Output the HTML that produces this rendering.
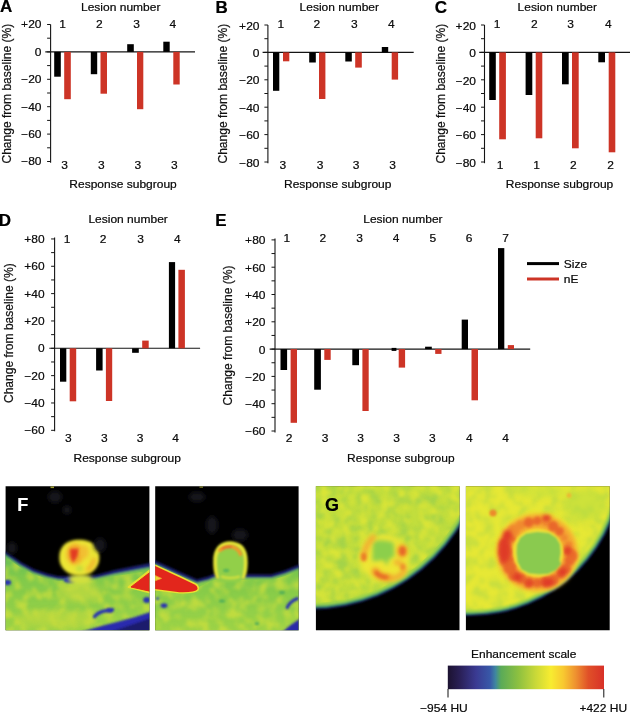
<!DOCTYPE html>
<html lang="en"><head><meta charset="utf-8"><title>Figure</title>
<style>
html,body{margin:0;padding:0;background:#fff;}
svg{display:block;font-family:"Liberation Sans",Arial,Helvetica,sans-serif;}
text{filter:url(#tb);}
text.r{filter:none;stroke:#111;stroke-width:0.22px;}
</style></head><body>
<svg width="630" height="715" viewBox="0 0 630 715">
<defs><filter id="tb" x="-5%" y="-25%" width="110%" height="150%"><feComponentTransfer><feFuncA type="gamma" exponent="0.62" amplitude="1" offset="0"/></feComponentTransfer></filter><filter id="tb2" x="-5%" y="-25%" width="110%" height="150%"><feComponentTransfer><feFuncA type="gamma" exponent="0.85" amplitude="1" offset="0"/></feComponentTransfer></filter></defs>
<rect width="630" height="715" fill="#fff"/>
<text transform="translate(0,12.3) scale(1,1)" text-anchor="start" font-size="17" font-weight="bold" fill="#000" >A</text>
<line x1="50.6" y1="24.50" x2="50.6" y2="162.70" stroke="#141414" stroke-width="1.1"/>
<line x1="47.1" y1="24.50" x2="50.6" y2="24.50" stroke="#141414" stroke-width="1"/>
<text transform="translate(41.5,28.40) scale(1.072,1)" text-anchor="end" font-size="11.2" font-weight="normal" fill="#111" >+20</text>
<line x1="47.1" y1="38.20" x2="50.6" y2="38.20" stroke="#141414" stroke-width="1"/>
<line x1="47.1" y1="51.90" x2="50.6" y2="51.90" stroke="#141414" stroke-width="1"/>
<text transform="translate(41.5,55.80) scale(1.072,1)" text-anchor="end" font-size="11.2" font-weight="normal" fill="#111" >0</text>
<line x1="47.1" y1="65.60" x2="50.6" y2="65.60" stroke="#141414" stroke-width="1"/>
<line x1="47.1" y1="79.30" x2="50.6" y2="79.30" stroke="#141414" stroke-width="1"/>
<text transform="translate(41.5,83.20) scale(1.072,1)" text-anchor="end" font-size="11.2" font-weight="normal" fill="#111" >−20</text>
<line x1="47.1" y1="93.00" x2="50.6" y2="93.00" stroke="#141414" stroke-width="1"/>
<line x1="47.1" y1="106.70" x2="50.6" y2="106.70" stroke="#141414" stroke-width="1"/>
<text transform="translate(41.5,110.60) scale(1.072,1)" text-anchor="end" font-size="11.2" font-weight="normal" fill="#111" >−40</text>
<line x1="47.1" y1="120.40" x2="50.6" y2="120.40" stroke="#141414" stroke-width="1"/>
<line x1="47.1" y1="134.10" x2="50.6" y2="134.10" stroke="#141414" stroke-width="1"/>
<text transform="translate(41.5,138.00) scale(1.072,1)" text-anchor="end" font-size="11.2" font-weight="normal" fill="#111" >−60</text>
<line x1="47.1" y1="147.80" x2="50.6" y2="147.80" stroke="#141414" stroke-width="1"/>
<line x1="47.1" y1="161.50" x2="50.6" y2="161.50" stroke="#141414" stroke-width="1"/>
<text transform="translate(41.5,165.40) scale(1.072,1)" text-anchor="end" font-size="11.2" font-weight="normal" fill="#111" >−80</text>
<line x1="45.300000000000004" y1="51.90" x2="195" y2="51.90" stroke="#141414" stroke-width="1.1"/>
<rect x="54.20" y="51.90" width="6.60" height="24.80" fill="#000"/>
<rect x="64.20" y="51.90" width="6.60" height="47.30" fill="#cd3426"/>
<rect x="90.80" y="51.90" width="6.40" height="22.30" fill="#000"/>
<rect x="100.50" y="51.90" width="6.50" height="41.80" fill="#cd3426"/>
<rect x="127.20" y="44.20" width="6.60" height="7.70" fill="#000"/>
<rect x="137.00" y="51.90" width="6.30" height="57.30" fill="#cd3426"/>
<rect x="163.30" y="41.70" width="6.40" height="10.20" fill="#000"/>
<rect x="173.30" y="51.90" width="6.40" height="32.60" fill="#cd3426"/>
<text transform="translate(62.5,28) scale(1.072,1)" text-anchor="middle" font-size="11.2" font-weight="normal" fill="#111" >1</text>
<text transform="translate(99.3,28) scale(1.072,1)" text-anchor="middle" font-size="11.2" font-weight="normal" fill="#111" >2</text>
<text transform="translate(136.5,28) scale(1.072,1)" text-anchor="middle" font-size="11.2" font-weight="normal" fill="#111" >3</text>
<text transform="translate(172.8,28) scale(1.072,1)" text-anchor="middle" font-size="11.2" font-weight="normal" fill="#111" >4</text>
<text transform="translate(64.5,169.3) scale(1.072,1)" text-anchor="middle" font-size="11.2" font-weight="normal" fill="#111" >3</text>
<text transform="translate(101.4,169.3) scale(1.072,1)" text-anchor="middle" font-size="11.2" font-weight="normal" fill="#111" >3</text>
<text transform="translate(137.8,169.3) scale(1.072,1)" text-anchor="middle" font-size="11.2" font-weight="normal" fill="#111" >3</text>
<text transform="translate(174.4,169.3) scale(1.072,1)" text-anchor="middle" font-size="11.2" font-weight="normal" fill="#111" >3</text>
<text transform="translate(81.0,10.9) scale(1.072,1)" text-anchor="start" font-size="11.2" font-weight="normal" fill="#111" >Lesion number</text>
<text transform="translate(69.3,188.0) scale(1.072,1)" text-anchor="start" font-size="11.2" font-weight="normal" fill="#111" >Response subgroup</text>
<text class="r" transform="translate(10.5,93.6) rotate(-90) scale(1,1.07)" text-anchor="middle" font-size="12.05" fill="#111">Change from baseline (%)</text>
<text transform="translate(215.6,13.1) scale(1,1)" text-anchor="start" font-size="17" font-weight="bold" fill="#000" >B</text>
<line x1="267.9" y1="25.00" x2="267.9" y2="163.20" stroke="#141414" stroke-width="1.1"/>
<line x1="264.4" y1="25.00" x2="267.9" y2="25.00" stroke="#141414" stroke-width="1"/>
<text transform="translate(259.5,29.50) scale(1.072,1)" text-anchor="end" font-size="11.2" font-weight="normal" fill="#111" >+20</text>
<line x1="264.4" y1="38.70" x2="267.9" y2="38.70" stroke="#141414" stroke-width="1"/>
<line x1="264.4" y1="52.40" x2="267.9" y2="52.40" stroke="#141414" stroke-width="1"/>
<text transform="translate(259.5,56.90) scale(1.072,1)" text-anchor="end" font-size="11.2" font-weight="normal" fill="#111" >0</text>
<line x1="264.4" y1="66.10" x2="267.9" y2="66.10" stroke="#141414" stroke-width="1"/>
<line x1="264.4" y1="79.80" x2="267.9" y2="79.80" stroke="#141414" stroke-width="1"/>
<text transform="translate(259.5,84.30) scale(1.072,1)" text-anchor="end" font-size="11.2" font-weight="normal" fill="#111" >−20</text>
<line x1="264.4" y1="93.50" x2="267.9" y2="93.50" stroke="#141414" stroke-width="1"/>
<line x1="264.4" y1="107.20" x2="267.9" y2="107.20" stroke="#141414" stroke-width="1"/>
<text transform="translate(259.5,111.70) scale(1.072,1)" text-anchor="end" font-size="11.2" font-weight="normal" fill="#111" >−40</text>
<line x1="264.4" y1="120.90" x2="267.9" y2="120.90" stroke="#141414" stroke-width="1"/>
<line x1="264.4" y1="134.60" x2="267.9" y2="134.60" stroke="#141414" stroke-width="1"/>
<text transform="translate(259.5,139.10) scale(1.072,1)" text-anchor="end" font-size="11.2" font-weight="normal" fill="#111" >−60</text>
<line x1="264.4" y1="148.30" x2="267.9" y2="148.30" stroke="#141414" stroke-width="1"/>
<line x1="264.4" y1="162.00" x2="267.9" y2="162.00" stroke="#141414" stroke-width="1"/>
<text transform="translate(259.5,166.50) scale(1.072,1)" text-anchor="end" font-size="11.2" font-weight="normal" fill="#111" >−80</text>
<line x1="262.59999999999997" y1="52.40" x2="413.7" y2="52.40" stroke="#141414" stroke-width="1.1"/>
<rect x="273.00" y="52.40" width="6.30" height="38.40" fill="#000"/>
<rect x="283.00" y="52.40" width="6.30" height="8.90" fill="#cd3426"/>
<rect x="309.20" y="52.40" width="6.60" height="10.10" fill="#000"/>
<rect x="319.00" y="52.40" width="6.40" height="46.60" fill="#cd3426"/>
<rect x="345.30" y="52.40" width="6.50" height="9.10" fill="#000"/>
<rect x="355.20" y="52.40" width="6.60" height="15.20" fill="#cd3426"/>
<rect x="381.80" y="47.00" width="6.40" height="5.40" fill="#000"/>
<rect x="391.70" y="52.40" width="6.40" height="27.20" fill="#cd3426"/>
<text transform="translate(280.8,28) scale(1.072,1)" text-anchor="middle" font-size="11.2" font-weight="normal" fill="#111" >1</text>
<text transform="translate(316.8,28) scale(1.072,1)" text-anchor="middle" font-size="11.2" font-weight="normal" fill="#111" >2</text>
<text transform="translate(354.3,28) scale(1.072,1)" text-anchor="middle" font-size="11.2" font-weight="normal" fill="#111" >3</text>
<text transform="translate(391.4,28) scale(1.072,1)" text-anchor="middle" font-size="11.2" font-weight="normal" fill="#111" >4</text>
<text transform="translate(282.8,169.3) scale(1.072,1)" text-anchor="middle" font-size="11.2" font-weight="normal" fill="#111" >3</text>
<text transform="translate(320,169.3) scale(1.072,1)" text-anchor="middle" font-size="11.2" font-weight="normal" fill="#111" >3</text>
<text transform="translate(356.2,169.3) scale(1.072,1)" text-anchor="middle" font-size="11.2" font-weight="normal" fill="#111" >3</text>
<text transform="translate(392.7,169.3) scale(1.072,1)" text-anchor="middle" font-size="11.2" font-weight="normal" fill="#111" >3</text>
<text transform="translate(299.6,10.9) scale(1.072,1)" text-anchor="start" font-size="11.2" font-weight="normal" fill="#111" >Lesion number</text>
<text transform="translate(284.0,188.0) scale(1.072,1)" text-anchor="start" font-size="11.2" font-weight="normal" fill="#111" >Response subgroup</text>
<text class="r" transform="translate(227.2,93.6) rotate(-90) scale(1,1.07)" text-anchor="middle" font-size="12.05" fill="#111">Change from baseline (%)</text>
<text transform="translate(434.8,12.9) scale(1,1)" text-anchor="start" font-size="17" font-weight="bold" fill="#000" >C</text>
<line x1="484.5" y1="25.00" x2="484.5" y2="163.20" stroke="#141414" stroke-width="1.1"/>
<line x1="481.0" y1="25.00" x2="484.5" y2="25.00" stroke="#141414" stroke-width="1"/>
<text transform="translate(476.0,29.70) scale(1.072,1)" text-anchor="end" font-size="11.2" font-weight="normal" fill="#111" >+20</text>
<line x1="481.0" y1="38.70" x2="484.5" y2="38.70" stroke="#141414" stroke-width="1"/>
<line x1="481.0" y1="52.40" x2="484.5" y2="52.40" stroke="#141414" stroke-width="1"/>
<text transform="translate(476.0,57.10) scale(1.072,1)" text-anchor="end" font-size="11.2" font-weight="normal" fill="#111" >0</text>
<line x1="481.0" y1="66.10" x2="484.5" y2="66.10" stroke="#141414" stroke-width="1"/>
<line x1="481.0" y1="79.80" x2="484.5" y2="79.80" stroke="#141414" stroke-width="1"/>
<text transform="translate(476.0,84.50) scale(1.072,1)" text-anchor="end" font-size="11.2" font-weight="normal" fill="#111" >−20</text>
<line x1="481.0" y1="93.50" x2="484.5" y2="93.50" stroke="#141414" stroke-width="1"/>
<line x1="481.0" y1="107.20" x2="484.5" y2="107.20" stroke="#141414" stroke-width="1"/>
<text transform="translate(476.0,111.90) scale(1.072,1)" text-anchor="end" font-size="11.2" font-weight="normal" fill="#111" >−40</text>
<line x1="481.0" y1="120.90" x2="484.5" y2="120.90" stroke="#141414" stroke-width="1"/>
<line x1="481.0" y1="134.60" x2="484.5" y2="134.60" stroke="#141414" stroke-width="1"/>
<text transform="translate(476.0,139.30) scale(1.072,1)" text-anchor="end" font-size="11.2" font-weight="normal" fill="#111" >−60</text>
<line x1="481.0" y1="148.30" x2="484.5" y2="148.30" stroke="#141414" stroke-width="1"/>
<line x1="481.0" y1="162.00" x2="484.5" y2="162.00" stroke="#141414" stroke-width="1"/>
<text transform="translate(476.0,166.70) scale(1.072,1)" text-anchor="end" font-size="11.2" font-weight="normal" fill="#111" >−80</text>
<line x1="479.2" y1="52.40" x2="630" y2="52.40" stroke="#141414" stroke-width="1.1"/>
<rect x="489.20" y="52.40" width="6.60" height="47.60" fill="#000"/>
<rect x="499.20" y="52.40" width="6.70" height="86.90" fill="#cd3426"/>
<rect x="525.60" y="52.40" width="6.70" height="42.60" fill="#000"/>
<rect x="535.70" y="52.40" width="6.60" height="85.90" fill="#cd3426"/>
<rect x="562.00" y="52.40" width="6.70" height="31.90" fill="#000"/>
<rect x="572.00" y="52.40" width="6.70" height="95.90" fill="#cd3426"/>
<rect x="598.30" y="52.40" width="6.70" height="9.90" fill="#000"/>
<rect x="608.70" y="52.40" width="6.60" height="99.90" fill="#cd3426"/>
<text transform="translate(497,28) scale(1.072,1)" text-anchor="middle" font-size="11.2" font-weight="normal" fill="#111" >1</text>
<text transform="translate(534.3,28) scale(1.072,1)" text-anchor="middle" font-size="11.2" font-weight="normal" fill="#111" >2</text>
<text transform="translate(570.7,28) scale(1.072,1)" text-anchor="middle" font-size="11.2" font-weight="normal" fill="#111" >3</text>
<text transform="translate(608.3,28) scale(1.072,1)" text-anchor="middle" font-size="11.2" font-weight="normal" fill="#111" >4</text>
<text transform="translate(500,169.3) scale(1.072,1)" text-anchor="middle" font-size="11.2" font-weight="normal" fill="#111" >1</text>
<text transform="translate(536.7,169.3) scale(1.072,1)" text-anchor="middle" font-size="11.2" font-weight="normal" fill="#111" >1</text>
<text transform="translate(573.3,169.3) scale(1.072,1)" text-anchor="middle" font-size="11.2" font-weight="normal" fill="#111" >2</text>
<text transform="translate(610.5,169.3) scale(1.072,1)" text-anchor="middle" font-size="11.2" font-weight="normal" fill="#111" >2</text>
<text transform="translate(517.6,10.9) scale(1.072,1)" text-anchor="start" font-size="11.2" font-weight="normal" fill="#111" >Lesion number</text>
<text transform="translate(505.8,188.3) scale(1.072,1)" text-anchor="start" font-size="11.2" font-weight="normal" fill="#111" >Response subgroup</text>
<text class="r" transform="translate(445.2,93.6) rotate(-90) scale(1,1.07)" text-anchor="middle" font-size="12.05" fill="#111">Change from baseline (%)</text>
<text transform="translate(-1.2,226.0) scale(1,1)" text-anchor="start" font-size="17" font-weight="bold" fill="#000" >D</text>
<line x1="54.6" y1="237.44" x2="54.6" y2="431.32" stroke="#141414" stroke-width="1.1"/>
<line x1="51.1" y1="238.94" x2="54.6" y2="238.94" stroke="#141414" stroke-width="1"/>
<text transform="translate(44.6,242.84) scale(1.072,1)" text-anchor="end" font-size="11.2" font-weight="normal" fill="#111" >+80</text>
<line x1="51.1" y1="252.61" x2="54.6" y2="252.61" stroke="#141414" stroke-width="1"/>
<line x1="51.1" y1="266.28" x2="54.6" y2="266.28" stroke="#141414" stroke-width="1"/>
<text transform="translate(44.6,270.18) scale(1.072,1)" text-anchor="end" font-size="11.2" font-weight="normal" fill="#111" >+60</text>
<line x1="51.1" y1="279.95" x2="54.6" y2="279.95" stroke="#141414" stroke-width="1"/>
<line x1="51.1" y1="293.62" x2="54.6" y2="293.62" stroke="#141414" stroke-width="1"/>
<text transform="translate(44.6,297.52) scale(1.072,1)" text-anchor="end" font-size="11.2" font-weight="normal" fill="#111" >+40</text>
<line x1="51.1" y1="307.29" x2="54.6" y2="307.29" stroke="#141414" stroke-width="1"/>
<line x1="51.1" y1="320.96" x2="54.6" y2="320.96" stroke="#141414" stroke-width="1"/>
<text transform="translate(44.6,324.86) scale(1.072,1)" text-anchor="end" font-size="11.2" font-weight="normal" fill="#111" >+20</text>
<line x1="51.1" y1="334.63" x2="54.6" y2="334.63" stroke="#141414" stroke-width="1"/>
<line x1="51.1" y1="348.30" x2="54.6" y2="348.30" stroke="#141414" stroke-width="1"/>
<text transform="translate(44.6,352.20) scale(1.072,1)" text-anchor="end" font-size="11.2" font-weight="normal" fill="#111" >0</text>
<line x1="51.1" y1="361.97" x2="54.6" y2="361.97" stroke="#141414" stroke-width="1"/>
<line x1="51.1" y1="375.64" x2="54.6" y2="375.64" stroke="#141414" stroke-width="1"/>
<text transform="translate(44.6,379.54) scale(1.072,1)" text-anchor="end" font-size="11.2" font-weight="normal" fill="#111" >−20</text>
<line x1="51.1" y1="389.31" x2="54.6" y2="389.31" stroke="#141414" stroke-width="1"/>
<line x1="51.1" y1="402.98" x2="54.6" y2="402.98" stroke="#141414" stroke-width="1"/>
<text transform="translate(44.6,406.88) scale(1.072,1)" text-anchor="end" font-size="11.2" font-weight="normal" fill="#111" >−40</text>
<line x1="51.1" y1="416.65" x2="54.6" y2="416.65" stroke="#141414" stroke-width="1"/>
<line x1="51.1" y1="430.32" x2="54.6" y2="430.32" stroke="#141414" stroke-width="1"/>
<text transform="translate(44.6,434.22) scale(1.072,1)" text-anchor="end" font-size="11.2" font-weight="normal" fill="#111" >−60</text>
<line x1="49.300000000000004" y1="348.30" x2="200.1" y2="348.30" stroke="#141414" stroke-width="1.1"/>
<rect x="60.00" y="348.30" width="6.30" height="33.40" fill="#000"/>
<rect x="69.70" y="348.30" width="6.50" height="53.00" fill="#cd3426"/>
<rect x="96.10" y="348.30" width="6.50" height="22.20" fill="#000"/>
<rect x="105.90" y="348.30" width="6.30" height="52.70" fill="#cd3426"/>
<rect x="132.10" y="348.30" width="6.70" height="4.50" fill="#000"/>
<rect x="142.20" y="340.60" width="6.50" height="7.70" fill="#cd3426"/>
<rect x="168.90" y="262.10" width="6.20" height="86.20" fill="#000"/>
<rect x="178.40" y="269.80" width="6.50" height="78.50" fill="#cd3426"/>
<text transform="translate(67,242.6) scale(1.072,1)" text-anchor="middle" font-size="11.2" font-weight="normal" fill="#111" >1</text>
<text transform="translate(103,242.6) scale(1.072,1)" text-anchor="middle" font-size="11.2" font-weight="normal" fill="#111" >2</text>
<text transform="translate(140.7,242.6) scale(1.072,1)" text-anchor="middle" font-size="11.2" font-weight="normal" fill="#111" >3</text>
<text transform="translate(177.3,242.6) scale(1.072,1)" text-anchor="middle" font-size="11.2" font-weight="normal" fill="#111" >4</text>
<text transform="translate(68.3,442.3) scale(1.072,1)" text-anchor="middle" font-size="11.2" font-weight="normal" fill="#111" >3</text>
<text transform="translate(104.3,442.3) scale(1.072,1)" text-anchor="middle" font-size="11.2" font-weight="normal" fill="#111" >3</text>
<text transform="translate(140,442.3) scale(1.072,1)" text-anchor="middle" font-size="11.2" font-weight="normal" fill="#111" >3</text>
<text transform="translate(175.7,442.3) scale(1.072,1)" text-anchor="middle" font-size="11.2" font-weight="normal" fill="#111" >4</text>
<text transform="translate(88.4,222.8) scale(1.072,1)" text-anchor="start" font-size="11.2" font-weight="normal" fill="#111" >Lesion number</text>
<text transform="translate(73.5,461.6) scale(1.072,1)" text-anchor="start" font-size="11.2" font-weight="normal" fill="#111" >Response subgroup</text>
<text class="r" transform="translate(12.7,333.1) rotate(-90) scale(1,1.07)" text-anchor="middle" font-size="12.05" fill="#111">Change from baseline (%)</text>
<text transform="translate(215.3,225.6) scale(1,1)" text-anchor="start" font-size="17" font-weight="bold" fill="#000" >E</text>
<line x1="275.0" y1="238.40" x2="275.0" y2="432.50" stroke="#141414" stroke-width="1.1"/>
<line x1="271.5" y1="239.90" x2="275.0" y2="239.90" stroke="#141414" stroke-width="1"/>
<text transform="translate(265.5,244.30) scale(1.072,1)" text-anchor="end" font-size="11.2" font-weight="normal" fill="#111" >+80</text>
<line x1="271.5" y1="253.55" x2="275.0" y2="253.55" stroke="#141414" stroke-width="1"/>
<line x1="271.5" y1="267.20" x2="275.0" y2="267.20" stroke="#141414" stroke-width="1"/>
<text transform="translate(265.5,271.60) scale(1.072,1)" text-anchor="end" font-size="11.2" font-weight="normal" fill="#111" >+60</text>
<line x1="271.5" y1="280.85" x2="275.0" y2="280.85" stroke="#141414" stroke-width="1"/>
<line x1="271.5" y1="294.50" x2="275.0" y2="294.50" stroke="#141414" stroke-width="1"/>
<text transform="translate(265.5,298.90) scale(1.072,1)" text-anchor="end" font-size="11.2" font-weight="normal" fill="#111" >+40</text>
<line x1="271.5" y1="308.15" x2="275.0" y2="308.15" stroke="#141414" stroke-width="1"/>
<line x1="271.5" y1="321.80" x2="275.0" y2="321.80" stroke="#141414" stroke-width="1"/>
<text transform="translate(265.5,326.20) scale(1.072,1)" text-anchor="end" font-size="11.2" font-weight="normal" fill="#111" >+20</text>
<line x1="271.5" y1="335.45" x2="275.0" y2="335.45" stroke="#141414" stroke-width="1"/>
<line x1="271.5" y1="349.10" x2="275.0" y2="349.10" stroke="#141414" stroke-width="1"/>
<text transform="translate(265.5,353.50) scale(1.072,1)" text-anchor="end" font-size="11.2" font-weight="normal" fill="#111" >0</text>
<line x1="271.5" y1="362.75" x2="275.0" y2="362.75" stroke="#141414" stroke-width="1"/>
<line x1="271.5" y1="376.40" x2="275.0" y2="376.40" stroke="#141414" stroke-width="1"/>
<text transform="translate(265.5,380.80) scale(1.072,1)" text-anchor="end" font-size="11.2" font-weight="normal" fill="#111" >−20</text>
<line x1="271.5" y1="390.05" x2="275.0" y2="390.05" stroke="#141414" stroke-width="1"/>
<line x1="271.5" y1="403.70" x2="275.0" y2="403.70" stroke="#141414" stroke-width="1"/>
<text transform="translate(265.5,408.10) scale(1.072,1)" text-anchor="end" font-size="11.2" font-weight="normal" fill="#111" >−40</text>
<line x1="271.5" y1="417.35" x2="275.0" y2="417.35" stroke="#141414" stroke-width="1"/>
<line x1="271.5" y1="431.00" x2="275.0" y2="431.00" stroke="#141414" stroke-width="1"/>
<text transform="translate(265.5,435.40) scale(1.072,1)" text-anchor="end" font-size="11.2" font-weight="normal" fill="#111" >−60</text>
<line x1="269.7" y1="349.10" x2="530.2" y2="349.10" stroke="#141414" stroke-width="1.1"/>
<rect x="280.50" y="349.10" width="6.60" height="20.90" fill="#000"/>
<rect x="290.60" y="349.10" width="6.40" height="73.70" fill="#cd3426"/>
<rect x="314.20" y="349.10" width="6.70" height="40.60" fill="#000"/>
<rect x="324.30" y="349.10" width="6.40" height="10.80" fill="#cd3426"/>
<rect x="352.30" y="349.10" width="6.70" height="16.10" fill="#000"/>
<rect x="362.40" y="349.10" width="6.30" height="61.90" fill="#cd3426"/>
<rect x="398.70" y="349.10" width="6.40" height="18.50" fill="#cd3426"/>
<rect x="425.10" y="346.70" width="6.70" height="2.40" fill="#000"/>
<rect x="435.20" y="349.10" width="6.30" height="4.80" fill="#cd3426"/>
<rect x="461.70" y="319.60" width="6.30" height="29.50" fill="#000"/>
<rect x="471.50" y="349.10" width="6.50" height="51.20" fill="#cd3426"/>
<rect x="498.00" y="248.10" width="6.30" height="101.00" fill="#000"/>
<rect x="507.80" y="345.10" width="6.20" height="4.00" fill="#cd3426"/>
<text transform="translate(286.8,242.4) scale(1.072,1)" text-anchor="middle" font-size="11.2" font-weight="normal" fill="#111" >1</text>
<text transform="translate(322.8,242.4) scale(1.072,1)" text-anchor="middle" font-size="11.2" font-weight="normal" fill="#111" >2</text>
<text transform="translate(359.6,242.4) scale(1.072,1)" text-anchor="middle" font-size="11.2" font-weight="normal" fill="#111" >3</text>
<text transform="translate(396.2,242.4) scale(1.072,1)" text-anchor="middle" font-size="11.2" font-weight="normal" fill="#111" >4</text>
<text transform="translate(432.8,242.4) scale(1.072,1)" text-anchor="middle" font-size="11.2" font-weight="normal" fill="#111" >5</text>
<text transform="translate(469.2,242.4) scale(1.072,1)" text-anchor="middle" font-size="11.2" font-weight="normal" fill="#111" >6</text>
<text transform="translate(505.6,242.4) scale(1.072,1)" text-anchor="middle" font-size="11.2" font-weight="normal" fill="#111" >7</text>
<text transform="translate(289,442.4) scale(1.072,1)" text-anchor="middle" font-size="11.2" font-weight="normal" fill="#111" >2</text>
<text transform="translate(325,442.4) scale(1.072,1)" text-anchor="middle" font-size="11.2" font-weight="normal" fill="#111" >3</text>
<text transform="translate(360.7,442.4) scale(1.072,1)" text-anchor="middle" font-size="11.2" font-weight="normal" fill="#111" >3</text>
<text transform="translate(396.7,442.4) scale(1.072,1)" text-anchor="middle" font-size="11.2" font-weight="normal" fill="#111" >3</text>
<text transform="translate(432.3,442.4) scale(1.072,1)" text-anchor="middle" font-size="11.2" font-weight="normal" fill="#111" >3</text>
<text transform="translate(469.4,442.4) scale(1.072,1)" text-anchor="middle" font-size="11.2" font-weight="normal" fill="#111" >4</text>
<text transform="translate(505.7,442.4) scale(1.072,1)" text-anchor="middle" font-size="11.2" font-weight="normal" fill="#111" >4</text>
<text transform="translate(363.2,223.0) scale(1.072,1)" text-anchor="start" font-size="11.2" font-weight="normal" fill="#111" >Lesion number</text>
<text transform="translate(347.1,461.8) scale(1.072,1)" text-anchor="start" font-size="11.2" font-weight="normal" fill="#111" >Response subgroup</text>
<text class="r" transform="translate(231.9,335.5) rotate(-90) scale(1,1.07)" text-anchor="middle" font-size="12.05" fill="#111">Change from baseline (%)</text>
<rect x="391.6" y="347.9" width="4.8" height="3" fill="#000"/>
<line x1="527" y1="263.6" x2="559" y2="263.6" stroke="#000" stroke-width="3"/>
<line x1="527" y1="279.0" x2="559" y2="279.0" stroke="#cd3426" stroke-width="3"/>
<text transform="translate(563.8,267.8) scale(1.072,1)" text-anchor="start" font-size="11.2" font-weight="normal" fill="#111" >Size</text>
<text transform="translate(563.8,283.4) scale(1.072,1)" text-anchor="start" font-size="11.2" font-weight="normal" fill="#111" >nE</text>

<defs>
<linearGradient id="cb" x1="0" x2="1" y1="0" y2="0">
<stop offset="0" stop-color="#1c1230"/>
<stop offset="0.08" stop-color="#2a2058"/>
<stop offset="0.18" stop-color="#3a3a92"/>
<stop offset="0.27" stop-color="#3858a8"/>
<stop offset="0.305" stop-color="#3f86a0"/>
<stop offset="0.34" stop-color="#5aaa58"/>
<stop offset="0.45" stop-color="#8cc040"/>
<stop offset="0.56" stop-color="#c8d838"/>
<stop offset="0.66" stop-color="#f8ec30"/>
<stop offset="0.74" stop-color="#f8c830"/>
<stop offset="0.82" stop-color="#ee9030"/>
<stop offset="0.90" stop-color="#e05028"/>
<stop offset="1" stop-color="#d83028"/>
</linearGradient>
</defs>
<rect x="447.8" y="665.6" width="156.2" height="23.6" fill="url(#cb)"/>
<line x1="448" y1="689" x2="448" y2="697.5" stroke="#111" stroke-width="1"/>
<line x1="603.8" y1="689" x2="603.8" y2="697.5" stroke="#111" stroke-width="1"/>
<text transform="translate(471,658.0) scale(1.072,1)" font-size="11.2" fill="#111">Enhancement scale</text>
<text transform="translate(420,712.2) scale(1.072,1)" font-size="11.2" fill="#111">−954 HU</text>
<text transform="translate(579.4,712.3) scale(1.072,1)" font-size="11.2" fill="#111">+422 HU</text>

<defs>
<filter id="b06" x="-20%" y="-20%" width="140%" height="140%"><feGaussianBlur stdDeviation="0.6"/></filter>
<filter id="b1" x="-20%" y="-20%" width="140%" height="140%"><feGaussianBlur stdDeviation="1"/></filter>
<filter id="b15" x="-30%" y="-30%" width="160%" height="160%"><feGaussianBlur stdDeviation="1.5"/></filter>
<filter id="b2" x="-40%" y="-40%" width="180%" height="180%"><feGaussianBlur stdDeviation="2"/></filter>
<filter id="b25" x="-40%" y="-40%" width="180%" height="180%"><feGaussianBlur stdDeviation="2.5"/></filter>
<filter id="b3" x="-50%" y="-50%" width="200%" height="200%"><feGaussianBlur stdDeviation="3"/></filter>
<filter id="txY" x="0" y="0" width="1" height="1" color-interpolation-filters="sRGB">
 <feTurbulence type="fractalNoise" baseFrequency="0.105" numOctaves="2" seed="7"/>
 <feColorMatrix type="matrix" values="0 0 0 0 0.90  0 0 0 0 0.90  0 0 0 0 0.22  3.2 0 0 0 -1.35"/>
 <feGaussianBlur stdDeviation="1.4"/>
 <feComposite in2="SourceGraphic" operator="in"/>
</filter>
<filter id="txG" x="0" y="0" width="1" height="1" color-interpolation-filters="sRGB">
 <feTurbulence type="fractalNoise" baseFrequency="0.095" numOctaves="2" seed="11"/>
 <feColorMatrix type="matrix" values="0 0 0 0 0.56  0 0 0 0 0.80  0 0 0 0 0.32  0 3.4 0 0 -1.45"/>
 <feGaussianBlur stdDeviation="1.5"/>
 <feComposite in2="SourceGraphic" operator="in"/>
</filter>
<filter id="txY2" x="0" y="0" width="1" height="1" color-interpolation-filters="sRGB">
 <feTurbulence type="fractalNoise" baseFrequency="0.10" numOctaves="2" seed="23"/>
 <feColorMatrix type="matrix" values="0 0 0 0 0.93  0 0 0 0 0.92  0 0 0 0 0.20  0 0 3.4 0 -1.45"/>
 <feGaussianBlur stdDeviation="1.5"/>
 <feComposite in2="SourceGraphic" operator="in"/>
</filter>
<linearGradient id="gF" x1="0" y1="555" x2="0" y2="630" gradientUnits="userSpaceOnUse">
 <stop offset="0" stop-color="#60bc5a"/><stop offset="0.3" stop-color="#80c94c"/><stop offset="1" stop-color="#9cd346"/>
</linearGradient>
<clipPath id="cF1"><rect x="5.6" y="486.3" width="143.8" height="143.9"/></clipPath>
<clipPath id="cF2"><rect x="155.2" y="486.3" width="143.4" height="143.9"/></clipPath>
<clipPath id="cG1"><rect x="315.9" y="486.3" width="143.6" height="144"/></clipPath>
<clipPath id="cG2"><rect x="465.9" y="486.3" width="143.8" height="144"/></clipPath>
</defs>

<g clip-path="url(#cF1)">
 <rect x="5" y="486" width="145" height="145" fill="#000"/>
 <g filter="url(#b1)">
  <path d="M0,549.5 L6,553.5 L20,563.3 L33,570.4 L46.5,575 L58,577.6 L70,578 L90,577.5 L99,575.6 L115,571.4 L135,567.4 L155,563.6 L155,640 L0,640 Z" fill="#26308a" stroke="#1d2370" stroke-width="3"/>
  <path d="M0,551.5 L6,555.5 L20,565.3 L33,572.4 L46.5,577 L58,579.6 L70,580 L90,579.5 L99,577.8 L115,574 L135,570.2 L155,566.6 L155,640 L0,640 Z" fill="url(#gF)"/>
 </g>
 <path d="M0,553 L6,557 L20,567 L33,574 L46.5,578.6 L58,581 L70,581.5 L90,581 L99,579.3 L115,576 L135,573 L155,570 L155,640 L0,640 Z" fill="#fff" filter="url(#txY)" opacity="0.55"/>
 <!-- yellowish zone under nodule -->
 <g filter="url(#b3)" opacity="0.6">
  <ellipse cx="80" cy="592" rx="20" ry="10" fill="#d0de3c"/>
  <ellipse cx="55" cy="619" rx="40" ry="8" fill="#c4da3e"/>
 </g>
 <!-- bottom right dark -->
 <g filter="url(#b1)">
  <path d="M78,633 L100,626.2 L115,622.6 L135,617 L152,611.6 L152,634 Z" fill="#2c2cae"/>
  <path d="M104,634 L135,623.4 L152,617.6 L152,634 Z" fill="#1a1a6c"/>
 </g>
 <!-- blue spots -->
 <g filter="url(#b1)" fill="#2a36b0">
  <ellipse cx="7.5" cy="582.5" rx="3.6" ry="2.8"/>
  <ellipse cx="69.8" cy="580.2" rx="6" ry="2.8"/>
  <ellipse cx="146.8" cy="600" rx="3.6" ry="3"/>
  <path d="M94.5,616.6 Q99,611.5 106,610.8 L112.5,609.8" fill="none" stroke="#2a36b0" stroke-width="3.4" stroke-linecap="round"/>
  <ellipse cx="109.5" cy="610.3" rx="4" ry="2.6"/>
 </g>
 <!-- nodule -->
 <g filter="url(#b2)"><ellipse cx="80.5" cy="579.5" rx="12" ry="5.5" fill="#d2e03c"/></g>
 <g filter="url(#b15)">
  <path d="M59.3,558 C59,546 67,539.8 79.3,539.8 C91.6,539.8 99.6,546 99.3,558 C99.3,568 91,575.6 79.3,575.6 C67.6,575.6 59.3,568 59.3,558 Z" fill="#ece634"/>
 </g>
 <g filter="url(#b2)">
  <ellipse cx="75" cy="554" rx="8.5" ry="10.5" fill="#f3a92c"/>
  <ellipse cx="84" cy="552" rx="5" ry="7" fill="#f2c030"/>
  <path d="M87,571 Q93,566 94.5,558" stroke="#f2ae2c" stroke-width="4" fill="none"/>
  <ellipse cx="79.5" cy="568.5" rx="3.2" ry="2.6" fill="#b4d840"/>
 </g>
 <g filter="url(#b15)">
  <path d="M70,549 L78.5,548.5 L77.5,556 L73,563 L70.5,557 Z" fill="#e23a22"/>
 </g>
 <!-- red wedge -->
 <g filter="url(#b06)">
  <path d="M128.8,587 L151,569.6 L151,592.8 Z" fill="#e6de30" stroke="#e6de30" stroke-width="2.2" stroke-linejoin="round"/>
  <path d="M131,587 L151,571.6 L151,591.4 Z" fill="#e2281e" stroke="#e2281e" stroke-width="1" stroke-linejoin="round"/>
 </g>
 <g filter="url(#b2)" fill="#15151c"><ellipse cx="55" cy="497" rx="7" ry="6"/><ellipse cx="67" cy="510" rx="4" ry="4"/><ellipse cx="12" cy="548" rx="5" ry="6"/><ellipse cx="100" cy="545" rx="6" ry="7"/></g>
 <rect x="50.5" y="486.3" width="3.5" height="1.8" fill="#9a9a30" filter="url(#b06)"/>
 <text x="17.2" y="510.8" font-size="18" font-weight="bold" fill="#fff">F</text>
</g>

<g clip-path="url(#cF2)">
 <rect x="155" y="486" width="144" height="145" fill="#000"/>
 <g filter="url(#b1)">
  <path d="M150,560 L179,573 L197,581 L208.5,578 L214,575.6 L248,575.8 L271.5,575.9 L285,571.9 L300,566 L300,640 L150,640 Z" fill="#26308a" stroke="#1d2370" stroke-width="3"/>
  <path d="M150,562 L179,575.5 L197,583 L208.5,580.3 L214,577.8 L248,578 L271.5,578 L285,574 L300,568.2 L300,640 L150,640 Z" fill="url(#gF)"/>
 </g>
 <path d="M150,590 L197,588 L208.5,582 L214,580 L248,580 L271.5,580 L285,576 L300,570.5 L300,640 L150,640 Z" fill="#fff" filter="url(#txY)" opacity="0.55"/>
 <g filter="url(#b1)">
  <path d="M281,633 L290,625.5 L300,618.5 L300,634 Z" fill="#2c2ca8"/>
  <path d="M287.2,607.5 Q290,601.5 297.5,598.6" stroke="#2a36b0" stroke-width="3.2" fill="none" stroke-linecap="round"/>
  <ellipse cx="164" cy="605.6" rx="3.4" ry="2.4" fill="#2a36b0"/>
  <ellipse cx="222" cy="601" rx="3" ry="1.6" fill="#4fae58"/>
  <ellipse cx="282" cy="592.5" rx="3" ry="1.8" fill="#56b056"/>
  <ellipse cx="257" cy="623.7" rx="2.4" ry="1.6" fill="#56b056"/>
  <ellipse cx="157.5" cy="598.5" rx="1.8" ry="1.5" fill="#3a58a8"/>
 </g>
 <!-- nodule -->
 <g filter="url(#b1)">
  <path d="M213.2,562 C212.8,548 220,541.3 230.5,541.3 C241,541.3 248,548 247.7,562 C247.7,569.5 246.8,574 244.6,579 L216.4,579 C214.2,574 213.2,569.5 213.2,562 Z" fill="#e4e638"/>
  <path d="M216.8,562 C216.6,551.5 222,545.4 230.5,545.4 C239,545.4 244.2,551.5 244.1,562 C244.1,569 243.2,574 241,582 L220,582 C217.8,574 216.8,569 216.8,562 Z" fill="#92cf49"/>
  <path d="M221,576.5 Q230,579.5 240,576.5" stroke="#d2e03c" stroke-width="2" fill="none"/>
 </g>
 <g filter="url(#b1)">
  <path d="M219.8,550.2 Q227.5,544.4 235,547.8 Q239.2,550.2 240.5,554.2" stroke="#f09a2c" stroke-width="3.6" fill="none" stroke-linecap="round"/>
  <path d="M222.5,548.4 Q227,546.4 231,547" stroke="#e8642a" stroke-width="2.2" fill="none" stroke-linecap="round"/>
  <ellipse cx="226.2" cy="570.5" rx="3.2" ry="1.8" fill="#58b558"/>
 </g>
 <!-- red tongue -->
 <g filter="url(#b06)">
  <path d="M150,562 L179.4,575.6 L195.6,583.2 Q200.6,586.2 198.6,590.2 Q195.6,593.8 179.4,593.4 L150,589.8 Z" fill="#ebe032"/>
  <path d="M150,563.6 L179.4,577.2 L194.6,584.4 Q198.8,587 197,589.8 Q194.6,592.6 179.4,592.2 L150,588.4 Z" fill="#e2281e"/>
  <path d="M154,575 L161.5,578.4 L154,581.2 Z" fill="#f0d430" stroke="#f0a030" stroke-width="0.8"/>
 </g>
 <g filter="url(#b2)" fill="#15151c"><ellipse cx="197" cy="497" rx="8" ry="5"/><ellipse cx="212" cy="525" rx="6" ry="9"/><ellipse cx="240" cy="535" rx="8" ry="6"/></g>
 <rect x="199.5" y="486.3" width="3.5" height="1.4" fill="#8a8a30" filter="url(#b06)"/>
</g>

<g clip-path="url(#cG1)">
 <rect x="315" y="486" width="146" height="146" fill="#000"/>
 <g filter="url(#b1)">
  <circle cx="311.1" cy="434.2" r="175.3" fill="#1b2666"/>
  <circle cx="311.1" cy="434.2" r="173.4" fill="#3f9e6a"/>
  <circle cx="311.1" cy="434.2" r="171.6" fill="#9ed446"/>
  <circle cx="311.1" cy="434.2" r="169" fill="#c2de3c"/>
 </g>
 <circle cx="311.1" cy="434.2" r="170" fill="#fff" filter="url(#txG)" opacity="0.6"/>
 <circle cx="311.1" cy="434.2" r="169" fill="#fff" filter="url(#txY2)" opacity="0.6"/>
 <!-- lesion -->
 <g filter="url(#b25)">
  <ellipse cx="384.5" cy="558.6" rx="25" ry="23.5" fill="#eee634"/>
 </g>
 <g filter="url(#b2)">
  <path d="M372.6,541.7 C378,539.5 388,539.5 393.8,543 L394.5,556 L389,559.5 L386.9,566 L383.5,560 L372.5,561.5 Z" fill="#8ccf4c"/>
 </g>
 <g filter="url(#b2)">
  <path d="M373,537.5 Q364.5,546 363.8,557.5" stroke="#f2b030" stroke-width="6" fill="none" stroke-linecap="round"/>
  <path d="M396.5,562.2 Q404.5,564.5 404.2,570.5 Q401,577.5 391,578.5" stroke="#f2b030" stroke-width="5.5" fill="none" stroke-linecap="round"/>
  <path d="M375.5,571.5 Q379,577 388,577.4" stroke="#f0982c" stroke-width="7.5" fill="none" stroke-linecap="round"/>
  <ellipse cx="402.3" cy="551" rx="5.2" ry="6.6" fill="#f0982c"/>
 </g>
 <g filter="url(#b15)">
  <ellipse cx="363.8" cy="557" rx="2.6" ry="4.2" fill="#ea7a28"/>
  <ellipse cx="402.5" cy="551" rx="3" ry="4.2" fill="#e66826"/>
  <path d="M376.5,573 Q380,577 386,577.3" stroke="#e66c26" stroke-width="4" fill="none" stroke-linecap="round"/>
  <ellipse cx="402.8" cy="567" rx="2.2" ry="3" fill="#ec8c2a"/>
 </g>
 <text x="325" y="510.7" font-size="18" font-weight="bold" fill="#000">G</text>
</g>

<g clip-path="url(#cG2)">
 <rect x="465" y="486" width="146" height="146" fill="#000"/>
 <g filter="url(#b1)">
  <circle cx="470.2" cy="463.2" r="152.8" fill="#1b2666"/>
  <circle cx="470.2" cy="463.2" r="151" fill="#3f9e6a"/>
  <circle cx="470.2" cy="463.2" r="149.2" fill="#a6d844"/>
  <circle cx="470.2" cy="463.2" r="146.6" fill="#e6e834"/>
 </g>
 <circle cx="470.2" cy="463.2" r="148" fill="#fff" filter="url(#txG)" opacity="0.34"/>
 <g filter="url(#b3)" opacity="0.55"><ellipse cx="585" cy="505" rx="22" ry="16" fill="#b8dc40"/><ellipse cx="540" cy="492" rx="26" ry="6" fill="#c4e03c"/></g>
 <g filter="url(#b2)">
  <ellipse cx="536.8" cy="552.4" rx="41.5" ry="39.5" fill="#f2dc32"/>
 </g>
 <g filter="url(#b2)">
  <ellipse cx="537.2" cy="552.6" rx="32.3" ry="30.8" fill="none" stroke="#f4a830" stroke-width="14.5"/>
  <ellipse cx="572" cy="556" rx="6" ry="8" fill="#f4a830"/>
 </g>
 <g filter="url(#b15)">
  <circle cx="570.0" cy="552.6" r="4.8" fill="#e9682b"/>
  <circle cx="569.4" cy="560.8" r="5.0" fill="#e9682b"/>
  <circle cx="566.0" cy="568.5" r="4.9" fill="#e9682b"/>
  <circle cx="560.0" cy="574.3" r="3.9" fill="#e9682b"/>
  <circle cx="553.5" cy="579.6" r="5.2" fill="#e9682b"/>
  <circle cx="545.3" cy="581.5" r="5.2" fill="#e9682b"/>
  <circle cx="537.2" cy="582.9" r="4.6" fill="#e9682b"/>
  <circle cx="528.8" cy="582.5" r="5.2" fill="#e9682b"/>
  <circle cx="521.4" cy="578.7" r="4.9" fill="#e9682b"/>
  <circle cx="513.7" cy="575.0" r="5.6" fill="#e9682b"/>
  <circle cx="509.9" cy="567.6" r="6.6" fill="#e9682b"/>
  <circle cx="506.8" cy="560.4" r="6.9" fill="#e9682b"/>
  <circle cx="505.7" cy="552.6" r="6.7" fill="#e9682b"/>
  <circle cx="505.2" cy="544.4" r="5.7" fill="#e9682b"/>
  <circle cx="509.8" cy="537.5" r="5.8" fill="#e9682b"/>
  <circle cx="513.8" cy="530.3" r="6.0" fill="#f08a2e"/>
  <circle cx="520.5" cy="525.1" r="4.7" fill="#f08a2e"/>
  <circle cx="528.7" cy="522.5" r="5.1" fill="#e9682b"/>
  <circle cx="537.2" cy="520.8" r="4.2" fill="#e9682b"/>
  <circle cx="545.8" cy="521.9" r="4.3" fill="#f08a2e"/>
  <circle cx="553.1" cy="526.3" r="5.2" fill="#e9682b"/>
  <circle cx="559.5" cy="531.3" r="4.4" fill="#e9682b"/>
  <circle cx="564.3" cy="537.7" r="3.5" fill="#f08a2e"/>
  <circle cx="568.6" cy="544.6" r="3.7" fill="#f08a2e"/>
  <ellipse cx="572.8" cy="556" rx="4.6" ry="6" fill="#ea6c2b"/>
 </g>
 <g filter="url(#b2)" fill="#df3a28">
  <ellipse cx="504.3" cy="550" rx="6" ry="13"/>
  <ellipse cx="507.5" cy="535" rx="4.5" ry="5"/>
  <ellipse cx="517.5" cy="577" rx="4.5" ry="4"/>
  <ellipse cx="548" cy="582.5" rx="6.5" ry="4.6"/>
  <ellipse cx="567" cy="550.5" rx="3.6" ry="4.6"/>
  <ellipse cx="546.5" cy="518" rx="4.6" ry="3"/>
  <ellipse cx="562.5" cy="572" rx="4.6" ry="4.6"/>
  <ellipse cx="529" cy="583" rx="3.5" ry="3"/>
 </g>
 <g filter="url(#b1)">
  <path d="M514,552 C513.5,540 523,529.5 537,529.5 C552,529.5 563,539 563,552 C563,565 553,576.5 539,576.5 C524,576.5 514.5,566 514,552 Z" fill="#f0e034"/>
  <path d="M516.4,553 L516.8,545 L520,538 L526,533.5 L537.5,531.8 L549,533 L556,537.5 L560,544 L560.8,552.5 L559.6,560 L561,564 L556,570 L548,574 L539,574.4 L529,573.5 L521.5,569.5 L517.5,562 Z" fill="#8aca50"/>
 </g>
 <g filter="url(#b1)">
  <circle cx="493" cy="513" r="3.6" fill="#ec8a2c"/>
  <circle cx="569" cy="495.5" r="2.4" fill="#efb830"/>
 </g>
</g>
</svg>
</body></html>
